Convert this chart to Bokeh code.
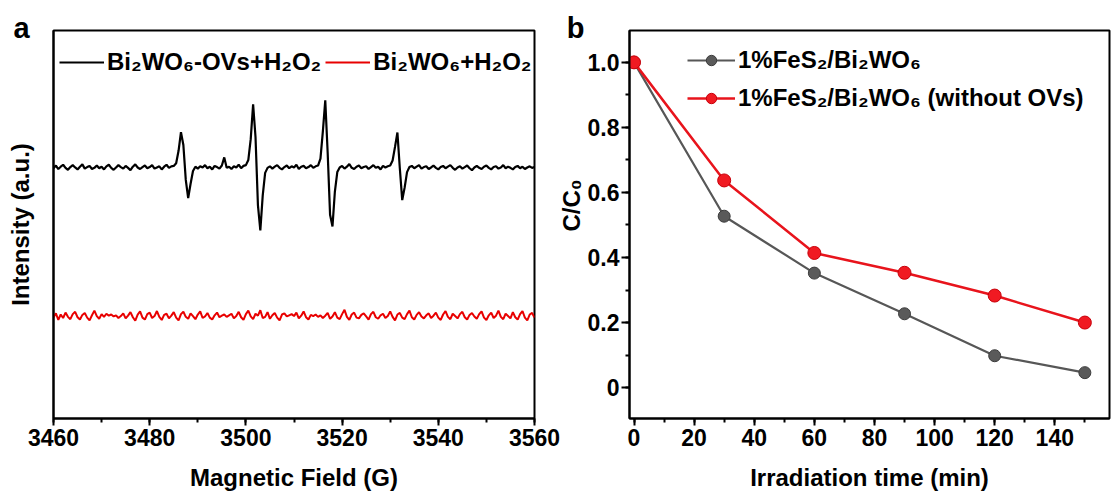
import math
from bokeh.plotting import figure
from bokeh.models import (Range1d, FixedTicker, SingleIntervalTicker, Legend, LegendItem,
                          CustomJSTickFormatter, Label)
from bokeh.layouts import row
from bokeh.embed import file_html
from bokeh.resources import INLINE

FONT = "Liberation Sans"

# ---------------- Panel a: EPR spectra (field step 0.5 G from 3460 G) ----------------
FIELD_START = 3460.0
FIELD_STEP = 0.5
EPR_OVS = [
    64.5, 65.2, 64.3, 64.9, 65.4, 64.6, 64.1, 64.8, 65.3, 64.7,
    64.2, 64.9, 65.5, 64.4, 64.8, 65.1, 64.3, 64.6, 65.2, 64.5,
    64.9, 64.2, 65.0, 65.4, 64.6, 64.1, 64.7, 65.3, 64.8, 64.4,
    65.1, 64.6, 64.0, 64.9, 65.5, 64.7, 64.3, 64.8, 65.2, 64.5,
    64.8, 65.3, 64.4, 64.7, 65.0, 64.2, 64.9, 65.4, 64.6, 65.0,
    65.1, 65.8, 69.0, 73.8, 70.5, 61.5, 56.8, 60.5, 63.8, 64.9,
    64.4, 65.0, 64.7, 65.3, 64.5, 64.9, 64.2, 65.1, 64.8, 64.4,
    65.2, 67.3, 64.6, 64.9, 64.3, 65.0, 64.7, 65.4, 64.5, 65.1,
    65.3, 66.6, 72.0, 81.0, 72.5, 55.0, 48.5, 57.5, 63.3, 64.6,
    65.0, 64.4, 64.9, 65.3, 64.6, 64.2, 64.8, 65.2, 64.5, 65.0,
    64.7, 65.4, 64.3, 64.9, 65.1, 64.5, 64.8, 65.3, 64.6, 65.0,
    65.2, 67.0, 74.0, 82.0, 68.5, 52.5, 49.5, 58.5, 63.5, 64.7,
    65.1, 64.4, 64.9, 65.6, 64.6, 64.3, 64.9, 65.2, 64.5, 64.8,
    65.0, 64.3, 64.8, 65.3, 64.6, 64.9, 64.2, 65.1, 64.7, 65.0,
    65.2, 66.5, 70.0, 73.7, 64.5, 56.3, 59.5, 63.5, 64.8, 65.1,
    64.5, 64.9, 65.3, 64.4, 64.8, 65.0, 64.3, 64.7, 65.2, 64.6,
    64.2, 64.8, 65.1, 64.5, 64.9, 65.3, 64.6, 64.1, 64.7, 65.0,
    64.4, 64.8, 65.2, 64.5, 64.0, 64.7, 65.1, 64.6, 64.3, 64.9,
    65.2, 64.6, 64.2, 64.8, 65.0, 64.4, 64.7, 65.3, 64.5, 64.9,
    64.6, 64.2, 64.8, 65.1, 64.5, 64.9, 64.3, 64.7, 65.0, 64.6,
    64.8,
]
EPR_PLAIN = [
    26.0, 27.1, 25.4, 26.8, 25.9, 27.3, 26.2, 25.6, 26.9, 27.5,
    26.1, 25.5, 26.7, 27.2, 26.0, 25.3, 26.6, 27.8, 26.4, 25.7,
    26.9, 26.2, 27.0, 26.5, 26.8, 26.3, 26.6, 25.9, 26.4, 27.1,
    25.8, 26.5, 27.4, 26.1, 25.2, 26.8, 27.6, 26.0, 25.5, 26.9,
    27.3, 25.9, 26.4, 27.7, 26.2, 25.4, 26.7, 27.0, 25.8, 26.5,
    27.4, 26.0, 25.3, 26.9, 27.5, 26.2, 25.7, 27.1, 26.4, 25.6,
    26.8, 27.6, 25.9, 26.3, 27.2, 26.0, 25.5, 26.6, 27.3, 26.1,
    26.5, 26.8, 26.2, 26.6, 27.0, 25.8, 26.4, 27.5, 26.1, 25.4,
    26.9, 27.8, 26.3, 25.6, 27.0, 26.5, 27.9, 25.9, 26.2, 27.4,
    25.7, 26.6, 27.2, 26.0, 25.3, 26.8, 27.1, 26.3, 26.6, 26.9,
    26.4, 27.3, 25.8, 26.5, 27.6, 26.1, 25.5, 26.7, 26.4, 26.8,
    26.2, 26.6, 25.9, 26.5, 27.2, 25.7, 26.3, 27.4, 26.0, 25.6,
    26.9, 28.0, 26.2, 25.4, 26.8, 27.3, 26.0, 25.8, 26.7, 27.1,
    26.3, 25.5, 26.9, 27.5, 26.1, 25.7, 26.6, 27.0, 25.9, 26.4,
    27.6, 26.2, 25.3, 26.8, 27.2, 26.0, 25.6, 26.9, 27.8, 26.1,
    25.5, 26.7, 27.4, 26.3, 25.8, 26.6, 27.1, 25.9, 26.5, 27.3,
    26.0, 25.4, 26.8, 27.7, 26.2, 25.6, 27.0, 26.4, 25.8, 26.9,
    27.5, 26.1, 25.5, 26.7, 27.2, 26.3, 25.7, 26.9, 27.6, 26.0,
    25.4, 26.6, 27.3, 25.9, 26.5, 27.8, 26.2, 25.6, 27.0, 26.4,
    25.8, 27.4, 26.1, 25.5, 26.9, 27.7, 26.0, 25.3, 26.8, 27.2,
    26.0,
]
FIELD = [FIELD_START + FIELD_STEP * i for i in range(len(EPR_OVS))]
EPR_LABELS = ["Bi\u2082WO\u2086-OVs+H\u2082O\u2082", "Bi\u2082WO\u2086+H\u2082O\u2082"]

# ---------------- Panel b: degradation ----------------
TIME = [0, 30, 60, 90, 120, 150]
CC0_OVS = [1.0, 0.527, 0.352, 0.227, 0.098, 0.046]
CC0_NO_OVS = [1.0, 0.637, 0.414, 0.353, 0.283, 0.200]
DEG_LABELS = ["1%FeS\u2082/Bi\u2082WO\u2086", "1%FeS\u2082/Bi\u2082WO\u2086 (without OVs)"]
Y_TITLE_B = "C/C\u2080"


def style_axis(ax, tick_out=7, minor_out=4):
    ax.axis_line_width = 2
    ax.axis_line_color = "black"
    ax.major_tick_line_width = 2
    ax.minor_tick_line_width = 2
    ax.major_tick_line_color = "black"
    ax.minor_tick_line_color = "black"
    ax.major_tick_out = tick_out
    ax.major_tick_in = 0
    ax.minor_tick_out = minor_out
    ax.minor_tick_in = 0
    ax.major_label_text_font = FONT
    ax.major_label_text_font_style = "bold"
    ax.major_label_text_font_size = "23px"
    ax.major_label_text_color = "black"
    ax.axis_label_text_font = FONT
    ax.axis_label_text_font_style = "bold"
    ax.axis_label_text_font_size = "24px"
    ax.axis_label_text_color = "black"


def base_fig(width, left, right, x_range, y_range, outline=True):
    p = figure(width=width, height=495, x_range=x_range, y_range=y_range,
               output_backend="svg", toolbar_location=None,
               min_border_left=left, min_border_right=right,
               min_border_top=30, min_border_bottom=77)
    p.grid.visible = False
    p.outline_line_color = "black" if outline else None
    p.outline_line_width = 2
    p.outline_line_alpha = 1
    p.background_fill_color = "white"
    p.border_fill_color = "white"
    return p


def panel_letter(p, letter, align, offset):
    p.title.text = letter
    p.title.align = align
    p.title.offset = offset
    p.title.standoff = -27
    p.title.vertical_align = "bottom"
    p.title.text_font = FONT
    p.title.text_font_style = "bold"
    p.title.text_font_size = "29px"
    p.title.text_color = "black"


# ---------------- figure a ----------------
pa = base_fig(560, 53, 26, Range1d(3460, 3560), Range1d(0, 100))
panel_letter(pa, "a", "left", -40)

r_ovs = pa.line(FIELD, EPR_OVS, line_color="black", line_width=2.2)
r_plain = pa.line(FIELD, EPR_PLAIN, line_color="#e80000", line_width=2.0)

pa.xaxis.ticker = SingleIntervalTicker(interval=20, num_minor_ticks=2)
style_axis(pa.xaxis[0])
pa.xaxis.major_label_standoff = 3
pa.xaxis.axis_label = "Magnetic Field (G)"
pa.xaxis.axis_label_standoff = 15
pa.xaxis.axis_label_text_line_height = 0.9

pa.yaxis.ticker = FixedTicker(ticks=[])
style_axis(pa.yaxis[0], tick_out=0, minor_out=0)
pa.yaxis.axis_label = "Intensity (a.u.)"
pa.yaxis.axis_label_standoff = 20

leg_a = Legend(items=[LegendItem(label=EPR_LABELS[0], renderers=[r_ovs]),
                      LegendItem(label=EPR_LABELS[1], renderers=[r_plain])],
               location=(6, 342), orientation="horizontal",
               border_line_color=None, background_fill_alpha=0,
               padding=0, margin=0, spacing=4, glyph_width=45, glyph_height=26,
               label_height=26, label_standoff=3,
               label_text_font=FONT, label_text_font_style="bold",
               label_text_font_size="24px", label_text_color="black")
pa.add_layout(leg_a)

# ---------------- strip between the panels: letter b and the y title of panel b ----------------
STRIP_W = 24
YR_B = (-0.095, 1.098)
pc = figure(width=STRIP_W, height=495, x_range=Range1d(0, STRIP_W), y_range=Range1d(*YR_B),
            output_backend="svg", toolbar_location=None,
            min_border_left=0, min_border_right=0, min_border_top=30, min_border_bottom=77,
            x_axis_location=None, y_axis_location=None)
pc.grid.visible = False
pc.outline_line_color = None
pc.background_fill_color = "white"
pc.border_fill_color = "white"
panel_letter(pc, "b", "right", 0)
pc.add_layout(Label(x=10.5, y=213, x_units="screen", y_units="screen",
                    text=Y_TITLE_B, angle=math.pi / 2,
                    text_align="center", text_baseline="middle",
                    text_font=FONT, text_font_style="bold", text_font_size="24px",
                    text_color="black"))

# ---------------- figure b ----------------
pb = base_fig(1111 - 560 - STRIP_W, 42, 2, Range1d(-1.5, 158.2), Range1d(*YR_B))
GRAY = "#575757"
RED = "#e8141c"
l1 = pb.line(TIME, CC0_OVS, line_color=GRAY, line_width=2.2)
s1 = pb.scatter(TIME, CC0_OVS, size=12, fill_color="#5a5a5a", line_color="#3c3c3c", line_width=1)
l2 = pb.line(TIME, CC0_NO_OVS, line_color=RED, line_width=2.5)
s2 = pb.scatter(TIME, CC0_NO_OVS, size=13, fill_color="#f01a22", line_color="#c8000a", line_width=1)

pb.xaxis.ticker = SingleIntervalTicker(interval=20, num_minor_ticks=2)
style_axis(pb.xaxis[0])
pb.xaxis.major_label_standoff = 3
pb.xaxis.axis_label = "Irradiation time (min)"
pb.xaxis.axis_label_standoff = 15
pb.xaxis.axis_label_text_line_height = 0.9

pb.yaxis.ticker = SingleIntervalTicker(interval=0.2, num_minor_ticks=2)
style_axis(pb.yaxis[0], tick_out=8, minor_out=4)
pb.yaxis.major_label_standoff = 2
pb.yaxis.formatter = CustomJSTickFormatter(code="return Math.abs(tick) < 1e-9 ? '0' : tick.toFixed(1);")

leg_b = Legend(items=[LegendItem(label=DEG_LABELS[0], renderers=[l1, s1]),
                      LegendItem(label=DEG_LABELS[1], renderers=[l2, s2])],
               location=(58, 306), orientation="vertical",
               border_line_color=None, background_fill_alpha=0,
               padding=0, margin=0, spacing=10, glyph_width=48, glyph_height=26,
               label_height=26, label_standoff=3,
               label_text_font=FONT, label_text_font_style="bold",
               label_text_font_size="24px", label_text_color="black")
pb.add_layout(leg_b)

layout = row(pa, pc, pb, spacing=0)
open("out.html", "w").write(file_html(layout, INLINE))
